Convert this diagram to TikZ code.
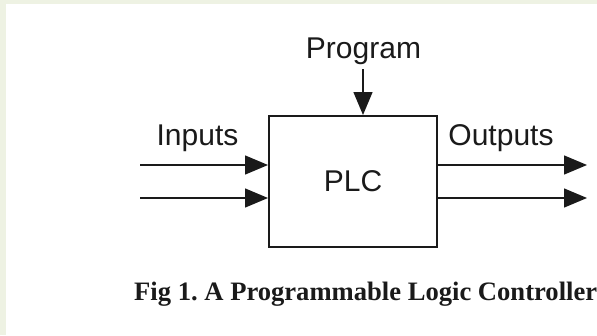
\documentclass[tikz,border=0pt]{standalone}
\usepackage{fontspec}
\setmainfont{Liberation Sans}
\newfontfamily\captionserif{Liberation Serif}
\usetikzlibrary{arrows.meta}
\definecolor{framegreen}{HTML}{EEF2E3}
\definecolor{inkline}{HTML}{1A1A1A}
\frenchspacing
\tikzset{
  label text/.style={font=\fontsize{30}{35}\selectfont, inner sep=0pt, anchor=base, text=inkline},
  plcbox/.style={draw=inkline, line width=2pt, minimum width=168pt, minimum height=131pt, inner sep=0pt,
                 font=\fontsize{30}{35}\selectfont, text=inkline},
  signal/.style={draw=inkline, line width=1.4pt, -{Triangle[length=23pt, width=19pt]}},
}
\begin{document}
\begin{tikzpicture}[x=1pt, y=-1pt]
  % page and its pale frame along the top and left edges
  \fill[white] (0,0) rectangle (597,335);
  \fill[framegreen] (0,0) rectangle (597,4);
  \fill[framegreen] (0,0) rectangle (6,335);
  \useasboundingbox (0,0) rectangle (597,335);

  % controller block
  \node[plcbox] (plc) at (353,181.5) {PLC};

  % labels
  \node[label text] (prog) at (363.5,58) {Program};
  \node[label text] (inlbl) at (197.5,145) {Inputs};
  \node[label text] (outlbl) at (501,145) {Outputs};

  % free ends of the signal lines
  \coordinate (in1) at (140,165);
  \coordinate (in2) at (140,198);
  \coordinate (out1) at (587,165);
  \coordinate (out2) at (587,198);

  % program input
  \draw[signal, shorten <=5pt] (prog.south -| 363,0) -- (363,0 |- plc.north);
  % inputs and outputs
  \draw[signal] (in1) -- (in1 -| plc.west);
  \draw[signal] (in2) -- (in2 -| plc.west);
  \draw[signal] (out1 -| plc.east) -- (out1);
  \draw[signal] (out2 -| plc.east) -- (out2);

  % caption
  \node[inner sep=0pt, anchor=base west, text=inkline,
        font=\captionserif\bfseries\fontsize{26.6}{30}\selectfont] (caption) at (134,300)
        {Fig 1. A Programmable Logic Controller};
\end{tikzpicture}
\end{document}
